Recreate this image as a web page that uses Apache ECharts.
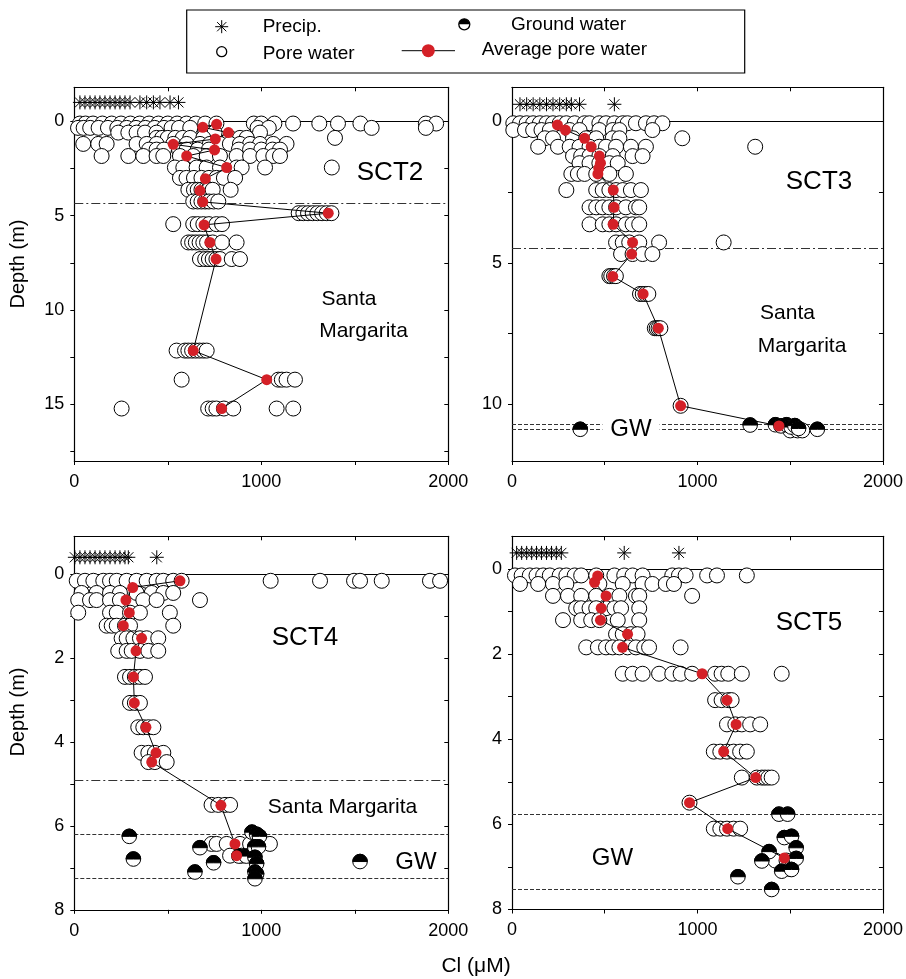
<!DOCTYPE html>
<html>
<head>
<meta charset="utf-8">
<script src="https://cdn.jsdelivr.net/npm/echarts@6/dist/echarts.min.js"></script>
<style>
html,body{margin:0;padding:0;background:#fff;}
#chart{width:906px;height:979px;}
</style>
</head>
<body>
<div id="chart"></div>
<script>
// ---------- Cl (µM) profiles for four cores ----------
// Pore water rows: [depth (m), [Cl values at that depth]]
const sct2PoreRows = [
  [0.12, [30,60,100,150,200,250,300,350,400,450,500,550,600,650,700,760,960,1000,1070,1170,1310,1410,1530,1880,1935]],
  [0.35, [20,50,85,130,180,230,280,330,380,430,480,520,560,620,980,1040,1590,1880]],
  [0.6,  [235,289,333,378,440,700,750,993]],
  [0.88, [440,470,500,540,580,620,690,832,886,922,1394]],
  [1.2,  [48,128,173,333,387,440,529,601,672,725,779,832,886,940,993,1064,1135]],
  [1.5,  [400,440,480,560,600,660,720,880,940,1000,1060,1100]],
  [1.84, [146,289,369,440,476,565,636,708,779,868,940,1011,1064,1100]],
  [2.45, [538,583,654,708,779,868,895,1020,1377]],
  [3.0,  [565,600,640,680,720,760,800,860]],
  [3.63, [610,640,660,680,700,720,740,836]],
  [4.25, [636,660,680,700,720,745,770]],
  [4.87, [1200,1225,1250,1275,1300,1325,1350,1375]],
  [5.45, [529,636,660,690,720,760,790]],
  [6.42, [610,630,650,670,690,710,740,790,868]],
  [7.3,  [672,700,720,740,760,779,842,886]],
  [12.15,[547,592,610,630,650,670,690,708]],
  [13.69,[574,1091,1110,1135,1180]],
  [15.22,[253,716,740,760,800,850,1082,1171]]
];
const sct3PoreRows = [
  [0.07, [7,43,79,114,150,186,221,257,293,338,391,418,471,507,552,597,623,668,722,766,811]],
  [0.31, [7,70,114,159,204,311,364,471,543,579,757]],
  [0.6,  [177,221,329,400,454,543,579,918]],
  [0.9,  [141,248,311,364,418,471,507,561,641,722,1311]],
  [1.23, [329,373,418,471,543,650,704]],
  [1.48, [364,418,471,525,570]],
  [1.86, [320,355,391,454,525,614]],
  [2.43, [293,454,489,525,561,597,641,695]],
  [3.04, [418,454,489,525,561,614,668,686]],
  [3.64, [418,489,525,561,614,650,686]],
  [4.28, [561,597,632,686,793,1141]],
  [4.69, [588,650,704,757]],
  [5.47, [525,535,550,560]],
  [6.1,  [690,705,720,735]],
  [7.31, [770,780,790,800]],
  [10.05,[909]],
  [10.92,[1500,1540,1565]]
];
const sct4PoreRows = [
  [0.16, [13,57,102,155,191,227,280,333,387,440,476,529,574,1050,1314,1496,1528,1644,1902,1956]],
  [0.45, [39,119,191,244,333,414,476,529]],
  [0.62, [21,84,119,191,244,369,440,672]],
  [0.92, [21,191,227,298,351,511]],
  [1.23, [173,200,227,271,298,529]],
  [1.53, [253,280,316,351,387,449]],
  [1.83, [235,280,307,351,396,449]],
  [2.45, [271,298,324,351,378]],
  [3.07, [298,324,351]],
  [3.65, [342,369,396,423]],
  [4.26, [360,396,431,476]],
  [4.48, [396,431,494]],
  [5.5,  [734,770,806,833]],
  [6.43, [734,761,815,886,940,993,1046]],
  [6.71, [833,895]]
];
const sct5PoreRows = [
  [0.15, [16,52,96,132,168,204,257,293,338,373,454,552,605,650,704,864,900,936,1052,1105,1266]],
  [0.35, [43,141,221,293,471,597,704,757,829,873]],
  [0.63, [221,302,373,454,525,579,668,686,971]],
  [0.92, [346,373,418,454,507,552,588,686]],
  [1.2,  [275,373,427,471,570,686]],
  [1.53, [561,597,641,677]],
  [1.84, [400,463,507,543,579,623,668,713,739,909]],
  [2.46, [597,650,704,793,864,909,971,1095,1130,1166,1239,1454]],
  [3.08, [1095,1130,1166,1184]],
  [3.65, [1159,1204,1239,1284,1338]],
  [4.29, [1088,1123,1159,1195,1230,1266]],
  [4.9,  [1239,1320,1347,1364,1382,1400]],
  [5.49, [957]],
  [6.1,  [1088,1123,1159,1195,1230]],
  [6.85, [1420,1480]],
  [7.05, [1500]]
];

// Precipitation Cl, drawn as a row above the surface
const sct2Precip = [30,57,84,111,137,164,191,218,244,271,298,351,387,423,458,512,557];
const sct3Precip = [43,79,114,150,186,221,257,293,320,364,552];
const sct4Precip = [3,30,57,84,111,137,164,191,218,244,271,289,441];
const sct5Precip = [25,52,79,106,132,159,186,213,239,266,605,900];
const precipRowDepth = [-1.0, -0.6, -0.4, -0.38];

// Ground water samples [Cl, depth]
const sct2Ground = [];
const sct3Ground = [[368,10.88],[1284,10.73],[1420,10.72],[1450,10.76],[1480,10.72],[1505,10.8],[1525,10.75],[1545,10.85],[1646,10.88]];
const sct4Ground = [[294,6.25],[316,6.79],[672,6.52],[745,6.88],[645,7.1],[950,6.15],[975,6.2],[990,6.25],[880,6.72],[920,6.72],[965,6.5],[985,6.5],[966,6.75],[975,6.9],[966,7.1],[975,7.15],[966,7.26],[1528,6.85]];
const sct5Ground = [[1439,5.76],[1486,5.76],[1468,6.31],[1507,6.28],[1532,6.55],[1386,6.64],[1347,6.86],[1532,6.8],[1454,7.1],[1507,7.06],[1218,7.23],[1400,7.53]];

// Average pore water [Cl, depth]
const sct2Avg = [[761,0.16],[687,0.32],[824,0.6],[754,0.94],[529,1.22],[750,1.52],[601,1.84],[815,2.45],[701,3.04],[672,3.67],[687,4.27],[1358,4.87],[694,5.49],[725,6.42],[758,7.3],[636,12.15],[1029,13.69],[788,15.22]];
const sct3Avg = [[245,0.13],[288,0.31],[391,0.6],[427,0.9],[471,1.23],[477,1.48],[468,1.66],[463,1.86],[546,2.43],[550,3.04],[545,3.64],[650,4.28],[645,4.69],[543,5.48],[707,6.1],[789,7.31],[909,10.05],[1439,10.76]];
const sct4Avg = [[565,0.16],[312,0.32],[276,0.62],[294,0.92],[262,1.23],[360,1.53],[330,1.83],[316,2.45],[321,3.07],[383,3.65],[437,4.26],[414,4.48],[784,5.51],[859,6.43],[868,6.71]];
const sct5Avg = [[462,0.16],[445,0.31],[507,0.63],[481,0.92],[477,1.2],[623,1.53],[596,1.84],[1025,2.46],[1159,3.08],[1208,3.65],[1141,4.29],[1314,4.9],[957,5.49],[1163,6.1],[1468,6.79]];

// Depths of the surface, formation top and water-table band
const sct2Contacts = {surface:0, formation:[4.35], gwBand:[]};
const sct3Contacts = {surface:0, formation:[4.5], gwBand:[10.71,10.88]};
const sct4Contacts = {surface:0, formation:[4.92], gwBand:[6.2,7.25]};
const sct5Contacts = {surface:0, formation:[], gwBand:[5.77,7.53]};

// Axis ticks
const clTicks = [0,1000,2000];
const sct2DepthLabels = [0,5,10,15];
const sct3DepthLabels = [0,5,10];
const sct45DepthLabels = [0,2,4,6,8];

// ---------- layout & styles ----------
const FONT = '"Liberation Sans", Arial, Helvetica, sans-serif';
const RED = '#d42027';
const AXIS_W = 1.2;

function range(a, b, step){ const out=[]; for(let v=a; v<=b+1e-9; v+=step) out.push(+v.toFixed(3)); return out; }
function flattenRows(rows){ const out=[]; rows.forEach(([d, xs]) => xs.forEach(x => out.push([x, d]))); return out; }

const panels = [
  {grid:{left:74.3, top:87.3, width:374, height:373.7}, yMin:-1.8, yMax:18, ticks:range(0,17.5,2.5), labels:sct2DepthLabels,
   pore:flattenRows(sct2PoreRows), precip:sct2Precip, gw:sct2Ground, avg:sct2Avg, contacts:sct2Contacts},
  {grid:{left:512, top:87.3, width:373.3, height:373.7}, yMin:-1.2, yMax:12, ticks:range(0,12,2.5), labels:sct3DepthLabels,
   pore:flattenRows(sct3PoreRows), precip:sct3Precip, gw:sct3Ground, avg:sct3Avg, contacts:sct3Contacts},
  {grid:{left:74.3, top:536.3, width:374, height:373.5}, yMin:-0.9, yMax:8, ticks:range(0,8,1), labels:sct45DepthLabels,
   pore:flattenRows(sct4PoreRows), precip:sct4Precip, gw:sct4Ground, avg:sct4Avg, contacts:sct4Contacts},
  {grid:{left:512, top:536.3, width:373.3, height:373.2}, yMin:-0.77, yMax:8, ticks:range(0,8,1), labels:sct45DepthLabels,
   pore:flattenRows(sct5PoreRows), precip:sct5Precip, gw:sct5Ground, avg:sct5Avg, contacts:sct5Contacts}
];

const axisLine = {show:true, onZero:false, lineStyle:{color:'#000', width:AXIS_W}};
const tickStyle = {color:'#000', width:1};

const grids = [], xAxes = [], yAxes = [], series = [];

function asteriskItem(params, api){
  const c = api.coord([api.value(0), api.value(1)]);
  const h = 7, d = h * 0.72;
  const st = {stroke:'#000', lineWidth:1};
  return {type:'group', children:[
    {type:'line', shape:{x1:c[0]-h, y1:c[1], x2:c[0]+h, y2:c[1]}, style:st},
    {type:'line', shape:{x1:c[0], y1:c[1]-h, x2:c[0], y2:c[1]+h}, style:st},
    {type:'line', shape:{x1:c[0]-d, y1:c[1]-d, x2:c[0]+d, y2:c[1]+d}, style:st},
    {type:'line', shape:{x1:c[0]+d, y1:c[1]-d, x2:c[0]-d, y2:c[1]+d}, style:st}
  ]};
}
function halfDiscItem(params, api){
  const c = api.coord([api.value(0), api.value(1)]);
  const r = 7.3;
  return {type:'group', children:[
    {type:'circle', shape:{cx:c[0], cy:c[1], r:r}, style:{fill:'#fff', stroke:'#000', lineWidth:1}},
    {type:'sector', shape:{cx:c[0], cy:c[1], r0:0, r:r, startAngle:Math.PI, endAngle:2*Math.PI, clockwise:true}, style:{fill:'#000', stroke:'#000', lineWidth:1}}
  ]};
}

panels.forEach((p, i) => {
  grids.push(p.grid);
  const xi = 2*i, yi = 2*i;
  xAxes.push({type:'value', gridIndex:i, position:'bottom', min:0, max:2000, interval:500,
    axisLine, splitLine:{show:false},
    axisTick:{show:true, inside:false, length:4, lineStyle:tickStyle},
    axisLabel:{color:'#000', fontSize:18, fontFamily:FONT, margin:12,
      formatter: v => clTicks.includes(v) ? String(v) : ''}});
  xAxes.push({type:'value', gridIndex:i, position:'top', min:0, max:2000, interval:500,
    axisLine, splitLine:{show:false},
    axisTick:{show:true, inside:true, length:4, lineStyle:tickStyle},
    axisLabel:{show:false}});
  yAxes.push({type:'value', gridIndex:i, position:'left', inverse:true, min:p.yMin, max:p.yMax,
    axisLine, splitLine:{show:false},
    axisTick:{show:true, inside:false, length:4, lineStyle:tickStyle, customValues:p.ticks},
    axisLabel:{color:'#000', fontSize:18, fontFamily:FONT, margin:10, customValues:p.labels}});
  yAxes.push({type:'value', gridIndex:i, position:'right', inverse:true, min:p.yMin, max:p.yMax,
    axisLine, splitLine:{show:false},
    axisTick:{show:true, inside:true, length:4, lineStyle:tickStyle, customValues:p.ticks},
    axisLabel:{show:false}});

  const ml = [{yAxis:p.contacts.surface, lineStyle:{type:'solid', color:'#000', width:1}}];
  p.contacts.formation.forEach(d => ml.push({yAxis:d, lineStyle:{type:[9,3,2,3], color:'#333', width:1}}));
  p.contacts.gwBand.forEach(d => ml.push({yAxis:d, lineStyle:{type:[4,2], color:'#333', width:1}}));

  series.push({type:'scatter', xAxisIndex:xi, yAxisIndex:yi, z:2, silent:true,
    symbol:'circle', symbolSize:15,
    itemStyle:{color:'#fff', borderColor:'#000', borderWidth:1, opacity:1},
    data:p.pore,
    markLine:{silent:true, z:1, symbol:['none','none'], label:{show:false}, animation:false, data:ml}});
  series.push({type:'custom', xAxisIndex:xi, yAxisIndex:yi, z:2, silent:true,
    renderItem:asteriskItem, encode:{x:0, y:1},
    data:p.precip.map(v => [v, precipRowDepth[i]])});
  series.push({type:'custom', xAxisIndex:xi, yAxisIndex:yi, z:3, silent:true,
    renderItem:halfDiscItem, encode:{x:0, y:1}, data:p.gw});
  series.push({type:'line', xAxisIndex:xi, yAxisIndex:yi, z:4, silent:true,
    symbol:'circle', symbolSize:11, showSymbol:true,
    itemStyle:{color:RED, borderWidth:0},
    lineStyle:{color:'#000', width:1},
    data:p.avg});
});

// ---------- text & legend ----------
function txt(x, y, text, size, extra){
  return {type:'text', x:x, y:y, z:110,
    style:Object.assign({text:text, fill:'#000', font:size+'px '+FONT, align:'center', verticalAlign:'middle'}, extra||{})};
}
function legendLine(cx, cy, dx1, dy1, dx2, dy2){
  return {type:'line', z:110, shape:{x1:cx+dx1, y1:cy+dy1, x2:cx+dx2, y2:cy+dy2}, style:{stroke:'#000', lineWidth:1}};
}
const LA = [221.7, 26.7];
const graphics = [
  // legend box
  {type:'rect', z:100, shape:{x:186.7, y:10, width:558, height:63}, style:{fill:'#fff', stroke:'#000', lineWidth:1.2}},
  legendLine(LA[0], LA[1], -6.5, 0, 6.5, 0),
  legendLine(LA[0], LA[1], 0, -6.5, 0, 6.5),
  legendLine(LA[0], LA[1], -4.6, -4.6, 4.6, 4.6),
  legendLine(LA[0], LA[1], 4.6, -4.6, -4.6, 4.6),
  txt(262.7, 27, 'Precip.', 19, {align:'left'}),
  {type:'circle', z:110, shape:{cx:221.7, cy:51.7, r:5}, style:{fill:'#fff', stroke:'#000', lineWidth:1.3}},
  txt(262.7, 54, 'Pore water', 19, {align:'left'}),
  {type:'circle', z:110, shape:{cx:464.3, cy:24.3, r:5.5}, style:{fill:'#fff', stroke:'#000', lineWidth:1.3}},
  {type:'sector', z:111, shape:{cx:464.3, cy:24.3, r0:0, r:5.5, startAngle:Math.PI, endAngle:2*Math.PI, clockwise:true}, style:{fill:'#000'}},
  txt(511, 24.5, 'Ground water', 19, {align:'left'}),
  {type:'line', z:110, shape:{x1:401.7, y1:50.7, x2:455, y2:50.7}, style:{stroke:'#000', lineWidth:1}},
  {type:'circle', z:111, shape:{cx:428.3, cy:50.7, r:6.5}, style:{fill:RED}},
  txt(481.7, 50, 'Average pore water', 19, {align:'left'}),

  // panel annotations
  txt(390, 173, 'SCT2', 26),
  txt(349, 299, 'Santa', 21),
  txt(363.5, 331.5, 'Margarita', 21),
  txt(819, 182, 'SCT3', 26),
  txt(787.5, 313.3, 'Santa', 21),
  txt(802, 346, 'Margarita', 21),
  txt(631, 429.5, 'GW', 24, {backgroundColor:'#fff', padding:[0,8]}),
  txt(305, 638.3, 'SCT4', 26),
  txt(342.5, 807.3, 'Santa Margarita', 21),
  txt(416, 862.7, 'GW', 24),
  txt(809, 623.3, 'SCT5', 26),
  txt(612.5, 858.3, 'GW', 24),

  // axis titles
  Object.assign(txt(18, 264, 'Depth (m)', 20), {rotation:Math.PI/2}),
  Object.assign(txt(18, 712, 'Depth (m)', 20), {rotation:Math.PI/2}),
  txt(476, 966, 'Cl (\u03bcM)', 21)
];

const chart = echarts.init(document.getElementById('chart'), null, {renderer:'canvas'});
chart.setOption({
  animation:false,
  backgroundColor:'#fff',
  textStyle:{fontFamily:FONT},
  grid:grids,
  xAxis:xAxes,
  yAxis:yAxes,
  series:series,
  graphic:{elements:graphics}
});
</script>
</body>
</html>
